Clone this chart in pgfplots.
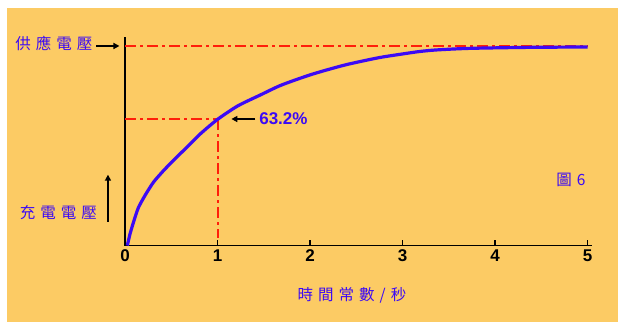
\documentclass[border=0pt]{standalone}
\usepackage{fontspec}
\setmainfont{Liberation Sans}
\newfontfamily\cjk{Noto Sans CJK TC}
\usepackage{pgfplots}
\pgfplotsset{compat=1.18}
\usetikzlibrary{arrows.meta}

\definecolor{bgorange}{RGB}{252,203,100}
\definecolor{curveblue}{RGB}{60,10,245}
\definecolor{guidered}{RGB}{255,30,10}

\newcommand{\g}{\hspace{5pt}}

\begin{document}
\begin{tikzpicture}
\path[use as bounding box] (0,0) rectangle (618pt,322pt);
\fill[white] (0,0) rectangle (618pt,322pt);
\fill[bgorange] (7pt,0) rectangle (618pt,314pt);
\begin{axis}[
  at={(125pt,76.5pt)}, anchor=south west,
  scale only axis, width=466.5pt, height=208.5pt,
  xmin=0, xmax=5.043, ymin=0, ymax=1.045,
  axis x line=bottom, axis y line=left,
  axis line style={-, line width=1.8pt, black},
  xtick={0,1,2,3,4,5}, xticklabels={0,1,2,3,4,5}, ytick=\empty,
  tick align=inside, major tick length=6pt,
  tick style={black, line width=1.6pt},
  xticklabel style={font=\bfseries\fontsize{17}{17}\selectfont, yshift=-1pt},
  clip=false]
  % guide lines
  \addplot[guidered, line width=2pt, dash pattern=on 11pt off 4pt on 3pt off 4pt]
    coordinates {(0,1) (5,1)};
  \addplot[guidered, line width=2pt, dash pattern=on 11pt off 4pt on 3pt off 4pt]
    coordinates {(0,0.632) (1,0.632)};
  \addplot[guidered, line width=2pt, dash pattern=on 11pt off 4pt on 3pt off 4pt]
    coordinates {(1,0.632) (1,0.04)};
  % charging curve
  \addplot[curveblue, line width=3.2pt, smooth, tension=0.4] coordinates {
    (0.025,0) (0.055,0.059) (0.098,0.126) (0.145,0.190) (0.218,0.252)
    (0.309,0.318) (0.418,0.376) (0.527,0.428) (0.672,0.494) (0.818,0.561)
    (1.0,0.632) (1.22,0.700) (1.47,0.756) (1.69,0.804) (2.02,0.858)
    (2.38,0.905) (2.74,0.941) (3.0,0.960) (3.18,0.972) (3.36,0.980)
    (3.72,0.988) (4.35,0.993) (5.0,0.995)};
  % annotations
  \draw[black, line width=1.5pt, -{Triangle[length=6pt,width=6pt]}]
    (axis cs:-0.31,1.0) -- (axis cs:-0.06,1.0);
  \node[anchor=east, text=curveblue, font=\cjk\fontsize{15.5}{15.5}\selectfont]
    at (axis cs:-0.315,1.012) {供\g 應\g 電\g 壓};
  \node[anchor=east, text=curveblue, font=\cjk\fontsize{15.5}{15.5}\selectfont]
    at (axis cs:-0.265,0.163) {充\g 電\g 電\g 壓};
  \draw[black, line width=1.5pt, -{Triangle[length=6pt,width=6pt]}]
    (axis cs:-0.184,0.118) -- (axis cs:-0.184,0.355);
  \draw[black, line width=1.5pt, -{Triangle[length=6pt,width=6pt]}]
    (axis cs:1.41,0.634) -- (axis cs:1.15,0.634);
  \node[anchor=west, text=curveblue, font=\bfseries\fontsize{17}{17}\selectfont, inner sep=0pt]
    at (axis cs:1.45,0.634) {63.2\%};
  \node[text=curveblue, font=\cjk\fontsize{15.5}{15.5}\selectfont]
    at (axis cs:4.82,0.328) {圖\g 6};
  \node[text=curveblue, font=\cjk\fontsize{15.5}{15.5}\selectfont]
    at (axis cs:2.454,-0.248) {時\g 間\g 常\g 數\g /\g 秒};
\end{axis}
\end{tikzpicture}
\end{document}
